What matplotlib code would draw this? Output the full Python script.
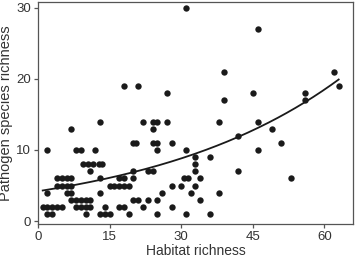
import numpy as np
import matplotlib
matplotlib.use("Agg")
import matplotlib.pyplot as plt

plt.rcParams['font.family'] = ['Liberation Sans', 'DejaVu Sans']

# habitat richness (x) and pathogen species richness (y)
habitat = [
    13, 7, 2, 8, 9, 12, 9.5, 10.5, 11.5, 12.8, 13.5, 11,
    4, 5, 6, 7, 13, 4, 5, 6, 7, 15, 2, 6, 7, 13,
    7, 8, 9, 10, 11, 1, 2, 3, 4, 5, 8, 9, 10, 11, 14, 17, 18,
    2, 3, 10, 13, 14, 15, 19,
    18, 21, 27, 22, 24, 25, 27, 24, 20, 20.5, 24, 25, 28, 25,
    20, 23, 24, 17, 18, 20, 16, 17, 18, 19, 28, 30, 26,
    20, 21, 23, 25, 22, 28, 25,
    31, 39, 39, 38, 46, 42, 31, 46, 33, 36, 33, 33, 42,
    30.5, 31.5, 34, 33, 32, 38, 34, 31, 36,
    46, 62, 63, 45, 56, 56, 49, 51, 53,
]
pathogens = [
    14, 13, 10, 10, 10, 10, 8, 8, 8, 8, 8, 7,
    6, 6, 6, 6, 6, 5, 5, 5, 5, 5, 4, 4, 4, 4,
    3, 3, 3, 3, 3, 2, 2, 2, 2, 2, 2, 2, 2, 2, 2, 2, 2,
    1, 1, 1, 1, 1, 1, 1,
    19, 19, 18, 14, 14, 14, 14, 13, 11, 11, 11, 11, 11, 10,
    7, 7, 7, 6, 6, 6, 5, 5, 5, 5, 5, 5, 4,
    3, 3, 3, 3, 2, 2, 1,
    30, 21, 17, 14, 14, 12, 10, 10, 9, 9, 8, 7, 7,
    6, 6, 6, 5, 4, 4, 3, 1, 1,
    27, 21, 19, 18, 18, 17, 13, 11, 6,
]

# exponential fit y = a * exp(b * x)
fit_a = 4.2
fit_b = 0.0247
fit_range = (1, 63)

fig = plt.figure(figsize=(3.58, 2.58), dpi=100)
ax = fig.add_axes([0.106, 0.132, 0.88, 0.86])

ax.scatter(habitat, pathogens, s=21, color='#1a1a1a', linewidths=0, zorder=3)
xx = np.linspace(fit_range[0], fit_range[1], 200)
ax.plot(xx, fit_a * np.exp(fit_b * xx), color='#1a1a1a', lw=1.3, zorder=2)

ax.set_xlim(0, 66)
ax.set_ylim(-0.4, 30.8)
ax.set_xticks([0, 15, 30, 45, 60])
ax.set_yticks([0, 10, 20, 30])
for s in ax.spines.values():
    s.set_color('#555555')
    s.set_linewidth(0.9)
ax.tick_params(direction='out', length=3, width=0.9, color='#555555',
               labelsize=9.5, labelcolor='#333333', pad=2)
ax.set_xlabel("Habitat richness", fontsize=10, color='#333333', labelpad=1)
ax.set_ylabel("Pathogen species richness", fontsize=10.5, color='#333333', labelpad=2)

fig.savefig('out.png', dpi=100)
